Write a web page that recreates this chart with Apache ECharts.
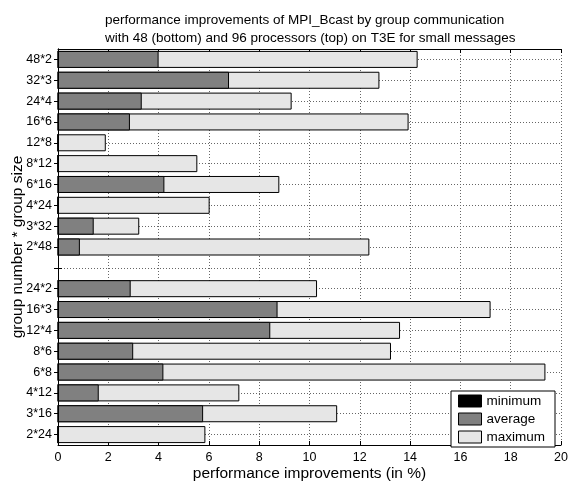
<!DOCTYPE html>
<html><head><meta charset="utf-8">
<script src="https://cdn.jsdelivr.net/npm/echarts@6/dist/echarts.min.js"></script>
<style>html,body{margin:0;padding:0;background:#fff}#c{width:569px;height:484px}</style>
</head><body><div id="c"></div>
<script>
const categories = ['48*2','32*3','24*4','16*6','12*8','8*12','6*16','4*24','3*32','2*48','',
  '24*2','16*3','12*4','8*6','6*8','4*12','3*16','2*24'];
const minimum = [0,0,0,0,0,0,0,0,0,0,null,0,0,0,0,0,0,0,0];
const average = [4.0,6.8,3.33,2.86,0,0,4.23,0,1.42,0.87,null,2.89,8.73,8.44,2.99,4.19,1.62,5.77,0];
const maximum = [14.3,12.78,9.29,13.94,1.9,5.54,8.8,6.03,3.23,12.38,null,10.3,17.2,13.6,13.24,19.38,7.21,11.1,5.86];
const xTicks = [0,2,4,6,8,10,12,14,16,18,20];

const FONT = 'Liberation Sans, Arial, Helvetica, sans-serif';
const chart = echarts.init(document.getElementById('c'), null, {renderer:'canvas'});
const grid = {left:58, right:8, top:49, bottom:39, containLabel:false, outerBoundsMode:'none'};
const dotted = {show:true, lineStyle:{color:'#666', type:[1,2], width:1}};
chart.setOption({
  animation:false,
  backgroundColor:'#fff',
  title:{
    text:'performance improvements of MPI_Bcast by group communication\nwith 48 (bottom) and 96 processors (top) on T3E for small messages',
    left:100, top:6, textAlign:'left',
    textStyle:{fontFamily:FONT, fontSize:13.5, fontWeight:'normal', color:'#000', lineHeight:18}
  },
  grid:grid,
  legend:{
    data:['minimum','average','maximum'],
    orient:'vertical', left:451, top:391,
    padding:[3,10,3,7], itemGap:4, itemWidth:23, itemHeight:12,
    borderColor:'#000', borderWidth:1, backgroundColor:'#fff', borderRadius:0,
    icon:'rect',
    itemStyle:{borderColor:'#000', borderWidth:1},
    textStyle:{fontFamily:FONT, fontSize:13.5, color:'#000'}
  },
  xAxis:[{
    type:'value', min:0, max:20, interval:2, position:'bottom',
    name:'performance improvements (in %)', nameLocation:'middle', nameGap:21,
    nameMoveOverlap:false,
    nameTextStyle:{fontFamily:FONT, fontSize:15.5, color:'#000'},
    axisLine:{show:true, lineStyle:{color:'#000', width:1}},
    axisTick:{show:true, inside:true, length:4, lineStyle:{color:'#000'}},
    axisLabel:{fontFamily:FONT, fontSize:12.5, color:'#000', margin:6,
      formatter:(v)=> xTicks.includes(v) ? String(v) : ''},
    splitLine:dotted
  },{
    type:'value', min:0, max:20, interval:2, position:'top',
    axisLine:{show:true, lineStyle:{color:'#000', width:1}},
    axisTick:{show:true, inside:true, length:4, lineStyle:{color:'#000'}},
    axisLabel:{show:false}, splitLine:{show:false}
  }],
  yAxis:[{
    type:'category', data:categories, inverse:true, position:'left',
    name:'group number * group size', nameLocation:'middle', nameGap:32,
    nameMoveOverlap:false,
    nameTextStyle:{fontFamily:FONT, fontSize:15.5, color:'#000'},
    axisLine:{show:true, lineStyle:{color:'#000', width:1}},
    axisTick:{show:true, inside:true, length:4, alignWithLabel:true, lineStyle:{color:'#000'}},
    axisLabel:{fontFamily:FONT, fontSize:12.5, color:'#000', margin:6},
    splitLine:{show:true, alignWithLabel:true, lineStyle:{color:'#666', type:[1,2], width:1}}
  },{
    type:'category', data:categories, inverse:true, position:'right',
    axisLine:{show:true, lineStyle:{color:'#000', width:1}},
    axisTick:{show:true, inside:true, length:4, alignWithLabel:true, lineStyle:{color:'#000'}},
    axisLabel:{show:false}, splitLine:{show:false}
  }],
  series:[
    {name:'maximum', type:'bar', data:maximum, barWidth:17, barGap:'-100%',
      itemStyle:{color:'#e6e6e6', borderColor:'#000', borderWidth:1}},
    {name:'average', type:'bar', data:average, barWidth:17, barGap:'-100%',
      itemStyle:{color:'#808080', borderColor:'#000', borderWidth:1}},
    {name:'minimum', type:'bar', data:minimum, barWidth:17, barGap:'-100%',
      itemStyle:{color:'#000', borderColor:'#000', borderWidth:1}}
  ]
});
</script></body></html>
